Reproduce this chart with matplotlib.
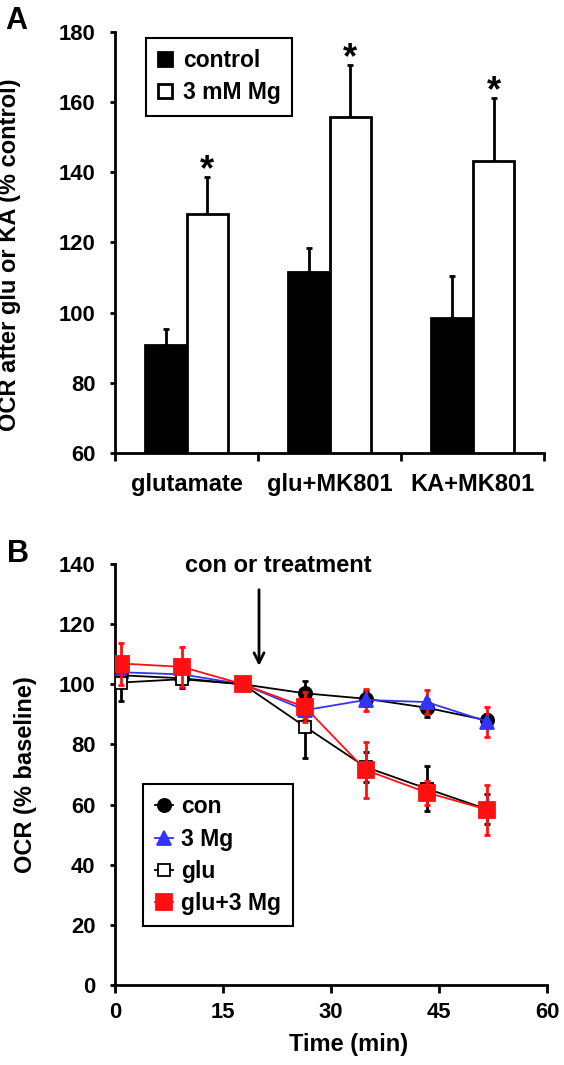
import numpy as np
import matplotlib
matplotlib.use("Agg")
import matplotlib.pyplot as plt

plt.rcParams['font.family'] = ['Liberation Sans', 'DejaVu Sans']
plt.rcParams['font.weight'] = 'bold'

# Panel A data
categories = ["glutamate", "glu+MK801", "KA+MK801"]
ctrl_mean = [90.7, 111.7, 98.4]
ctrl_err = [4.8, 6.7, 12.1]
mg_mean = [128.1, 155.6, 143.2]
mg_err = [10.5, 14.9, 17.9]

# Panel B data
time_min = [0.9, 9.3, 17.8, 26.4, 34.8, 43.3, 51.7]
con = [103.0, 102.0, 100.0, 97.0, 95.2, 92.2, 88.0]
con_err = [3.0, 2.0, 0.0, 4.0, 2.5, 3.0, 2.0]
mg3 = [104.0, 103.3, 100.0, 91.4, 94.8, 94.1, 87.6]
mg3_err = [3.0, 3.0, 0.0, 3.0, 3.6, 4.0, 5.0]
glu = [100.6, 101.7, 100.0, 85.9, 72.5, 65.3, 58.4]
glu_err = [6.2, 3.0, 0.0, 10.4, 5.0, 7.5, 5.0]
glu_mg = [106.9, 105.8, 100.0, 92.4, 71.5, 64.0, 58.3]
glu_mg_err = [7.0, 6.6, 0.0, 5.0, 9.4, 4.0, 8.3]

fig = plt.figure(figsize=(5.64, 10.65), dpi=100)

# ---------------- Panel A ----------------
axA = fig.add_axes([0.2039, 0.5744, 0.7612, 0.3959])
x = np.arange(len(categories))
w = 0.29
b1 = axA.bar(x - w, ctrl_mean, w, align='edge', color='black', edgecolor='black',
             linewidth=2, label='control', zorder=2)
b2 = axA.bar(x, mg_mean, w, align='edge', color='white', edgecolor='black',
             linewidth=2, label='3 mM Mg', zorder=2)
axA.errorbar(x - w / 2, ctrl_mean, yerr=[np.zeros(3), ctrl_err], fmt='none',
             ecolor='black', elinewidth=2, capsize=2.5, capthick=2, zorder=1)
axA.errorbar(x + w / 2, mg_mean, yerr=[np.zeros(3), mg_err], fmt='none',
             ecolor='black', elinewidth=2, capsize=2.5, capthick=2, zorder=1)
for xi, m, e in zip(x, mg_mean, mg_err):
    axA.text(xi + w / 2, m + e - 1, '*', ha='center', va='baseline',
             fontsize=26, fontweight='bold')

axA.set_xlim(-0.5, 2.5)
axA.set_ylim(60, 180)
axA.set_yticks(np.arange(60, 181, 20))
axA.set_xticks([-0.5, 0.5, 1.5, 2.5])
axA.set_xticklabels([])
axA.set_xticks(x, minor=True)
axA.set_xticklabels(categories, minor=True, fontsize=17, fontweight='bold')
axA.tick_params(axis='x', which='minor', length=0, pad=14)
axA.tick_params(axis='x', which='major', direction='out', length=5.5, width=2)
axA.tick_params(axis='y', direction='out', length=3.6, width=2, pad=10.5,
                labelsize=15.8)
for s in ['top', 'right']:
    axA.spines[s].set_visible(False)
for s in ['left', 'bottom']:
    axA.spines[s].set_linewidth(2)
axA.set_ylabel('OCR after glu or KA (% control)', fontsize=17, fontweight='bold')
axA.yaxis.set_label_coords(-0.218, 0.47)
legA = axA.legend(handles=[b1, b2], loc='upper left', bbox_to_anchor=(0.073, 0.986),
                  fontsize=16.5, frameon=True, fancybox=False, framealpha=1,
                  edgecolor='black', handlelength=0.6, handleheight=0.6,
                  handletextpad=0.5, labelspacing=0.4, borderpad=0.5,
                  borderaxespad=0)
legA.get_frame().set_linewidth(1.5)

# ---------------- Panel B ----------------
axB = fig.add_axes([0.2039, 0.0751, 0.766, 0.3953])
red = '#ff1010'
blue = '#3333ff'
series = [
    (con, con_err, 'black', 'black', 'o', 'black', 'black', 9.5, 'con'),
    (mg3, mg3_err, blue, red, '^', blue, blue, 10, '3 Mg'),
    (glu, glu_err, 'black', 'black', 's', 'white', 'black', 8.6, 'glu'),
    (glu_mg, glu_mg_err, red, red, 's', red, red, 11, 'glu+3 Mg'),
]
z = 3
for yv, ye, lc, ec, mk, mfc, mec, ms, lab in series:
    axB.errorbar(time_min, yv, yerr=ye, fmt='none', ecolor=ec, elinewidth=2,
                 capsize=2, capthick=2, zorder=z)
    axB.plot(time_min, yv, color=lc, lw=1.3, marker=mk, markersize=ms,
             markerfacecolor=mfc, markeredgecolor=mec, markeredgewidth=1.3,
             label=lab, zorder=z + 1)
    z += 2

axB.set_xlim(0, 60)
axB.set_ylim(0, 140)
axB.set_xticks(np.arange(0, 61, 15))
axB.set_yticks(np.arange(0, 141, 20))
axB.tick_params(axis='x', direction='out', length=5.5, width=2, pad=7,
                labelsize=15.8)
axB.tick_params(axis='y', direction='out', length=3.6, width=2, pad=10.5,
                labelsize=15.8)
for s in ['top', 'right']:
    axB.spines[s].set_visible(False)
for s in ['left', 'bottom']:
    axB.spines[s].set_linewidth(2)
axB.set_ylabel('OCR (% baseline)', fontsize=17, fontweight='bold')
axB.yaxis.set_label_coords(-0.18, 0.5)
axB.set_xlabel('Time (min)', fontsize=17, fontweight='bold')
axB.xaxis.set_label_coords(0.54, -0.115)

axB.annotate('', xy=(20, 105.2), xytext=(20, 132.4),
             arrowprops=dict(arrowstyle='->', color='black', lw=2,
                             mutation_scale=18))
axB.text(22.7, 137.3, 'con or treatment', ha='center', va='baseline',
         fontsize=17, fontweight='bold')

legB = axB.legend(loc='upper left', bbox_to_anchor=(0.0655, 0.4774),
                  fontsize=16.5, frameon=True, fancybox=False, framealpha=1,
                  edgecolor='black', handlelength=0.8, handletextpad=0.35,
                  labelspacing=0.4, borderpad=0.5, borderaxespad=0)
legB.get_frame().set_linewidth(1.5)

fig.text(0.009, 1 - 6 / 1065, 'A', fontsize=22, fontweight='bold', va='top')
fig.text(0.012, 1 - 539 / 1065, 'B', fontsize=22, fontweight='bold', va='top')

fig.savefig('out.png', dpi=100)
